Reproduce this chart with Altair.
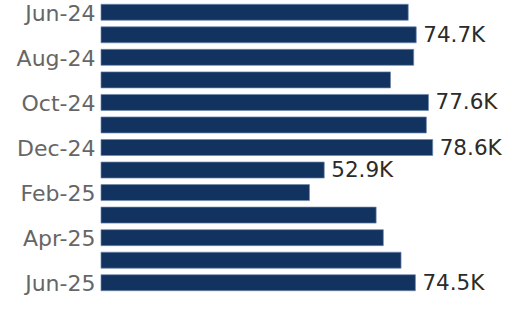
import altair as alt
import pandas as pd

months = ["Jun-24", "Jul-24", "Aug-24", "Sep-24", "Oct-24", "Nov-24", "Dec-24",
          "Jan-25", "Feb-25", "Mar-25", "Apr-25", "May-25", "Jun-25"]
values_k = [72.8, 74.7, 74.1, 68.6, 77.6, 77.1, 78.6, 52.9, 49.4, 65.2, 66.9, 71.1, 74.5]
labeled_months = ["Jul-24", "Oct-24", "Dec-24", "Jan-25", "Jun-25"]
tick_labels = ["Jun-24", "Aug-24", "Oct-24", "Dec-24", "Feb-25", "Apr-25", "Jun-25"]

df = pd.DataFrame({"month": months, "value": values_k})
df["label"] = [f"{v:.1f}K" if m in labeled_months else "" for m, v in zip(months, values_k)]

y_enc = alt.Y("month:N", sort=months,
              scale=alt.Scale(paddingInner=0.29, paddingOuter=0.145),
              axis=alt.Axis(title=None, values=tick_labels, ticks=False, domain=False,
                            labelFont="DejaVu Sans", labelFontSize=22, labelColor="#666666",
                            labelPadding=6, labelOffset=1.5))
x_enc = alt.X("value:Q", scale=alt.Scale(domain=[0, 100]), axis=None)

bars = alt.Chart(df).mark_bar(color="#12325f", stroke="#6f87ab", strokeWidth=0.7).encode(
    x=x_enc, y=y_enc)

text = alt.Chart(df).mark_text(align="left", baseline="middle", dx=7, dy=1,
                               font="DejaVu Sans", fontSize=21.5, color="#2b2b2b").encode(
    x=x_enc, y=y_enc, text="label:N")

chart = (bars + text).properties(
    width=422, height=293,
    autosize=alt.AutoSizeParams(type="none"),
    padding={"left": 101, "top": 1, "right": 0, "bottom": 20},
).configure_view(stroke=None)

chart.save("out.html", embed_options={"renderer": "svg", "actions": False})
